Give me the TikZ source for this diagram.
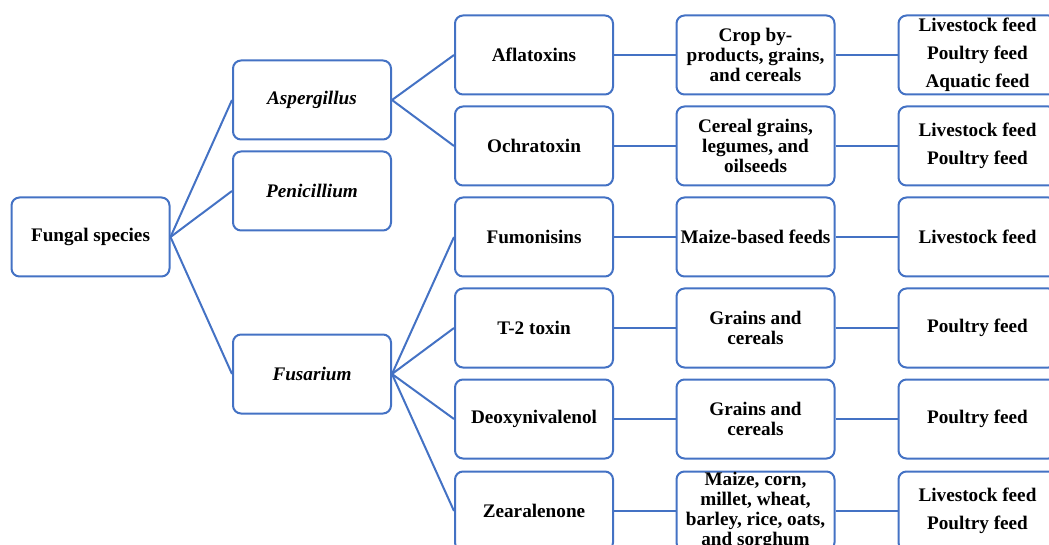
\documentclass[tikz,border=0pt]{standalone}
\usepackage{fontspec}
\setmainfont{Liberation Serif}
\definecolor{boxblue}{RGB}{68,114,196}
\begin{document}
\begin{tikzpicture}[x=1pt,y=-1pt,
  box/.style={draw=boxblue, line width=2pt, rounded corners=8pt, minimum width=158pt, minimum height=79pt, align=center, inner sep=0pt, text=black, font=\fontsize{19.2}{20.2}\selectfont\bfseries},
  feed/.style={box, font=\fontsize{19.2}{28}\selectfont\bfseries},
  genus/.style={box, font=\fontsize{19.2}{20.2}\selectfont\bfseries\itshape},
  link/.style={draw=boxblue, line width=2pt}]
\useasboundingbox (0,0) rectangle (1049,545);
\clip (0,0) rectangle (1049,545);
% column 1
\node[box] (fs) at (90.5,237) {Fungal species};
% column 2
\node[genus] (asp) at (312,100) {Aspergillus};
\node[genus] (pen) at (312,191) {Penicillium};
\node[genus] (fus) at (312,374) {Fusarium};
% column 3
\node[box] (afl) at (534,55) {Aflatoxins};
\node[box] (och) at (534,146) {Ochratoxin};
\node[box] (fum) at (534,237) {Fumonisins};
\node[box] (t2) at (534,328) {T-2 toxin};
\node[box] (don) at (534,419) {Deoxynivalenol};
\node[box] (zea) at (534,511) {Zearalenone};
% column 4
\node[box] (s1) at (755.5,55) {Crop by-\\products, grains,\\and cereals};
\node[box] (s2) at (755.5,146) {Cereal grains,\\legumes, and\\oilseeds};
\node[box] (s3) at (755.5,237) {Maize-based feeds};
\node[box] (s4) at (755.5,328) {Grains and\\cereals};
\node[box] (s5) at (755.5,419) {Grains and\\cereals};
\node[box] (s6) at (755.5,511) {Maize, corn,\\millet, wheat,\\barley, rice, oats,\\and sorghum};
% column 5
\node[feed] (f1) at (977.5,55) {Livestock feed\\Poultry feed\\Aquatic feed};
\node[feed] (f2) at (977.5,146) {Livestock feed\\Poultry feed};
\node[feed] (f3) at (977.5,237) {Livestock feed};
\node[feed] (f4) at (977.5,328) {Poultry feed};
\node[feed] (f5) at (977.5,419) {Poultry feed};
\node[feed] (f6) at (977.5,511) {Livestock feed\\Poultry feed};
% connectors
\foreach \g in {asp,pen,fus} \draw[link] (fs.east) -- (\g.west);
\foreach \t in {afl,och} \draw[link] (asp.east) -- (\t.west);
\foreach \t in {fum,t2,don,zea} \draw[link] (fus.east) -- (\t.west);
\draw[link] (afl) -- (s1); \draw[link] (s1) -- (f1);
\draw[link] (och) -- (s2); \draw[link] (s2) -- (f2);
\draw[link] (fum) -- (s3); \draw[link] (s3) -- (f3);
\draw[link] (t2) -- (s4); \draw[link] (s4) -- (f4);
\draw[link] (don) -- (s5); \draw[link] (s5) -- (f5);
\draw[link] (zea) -- (s6); \draw[link] (s6) -- (f6);
\end{tikzpicture}
\end{document}
